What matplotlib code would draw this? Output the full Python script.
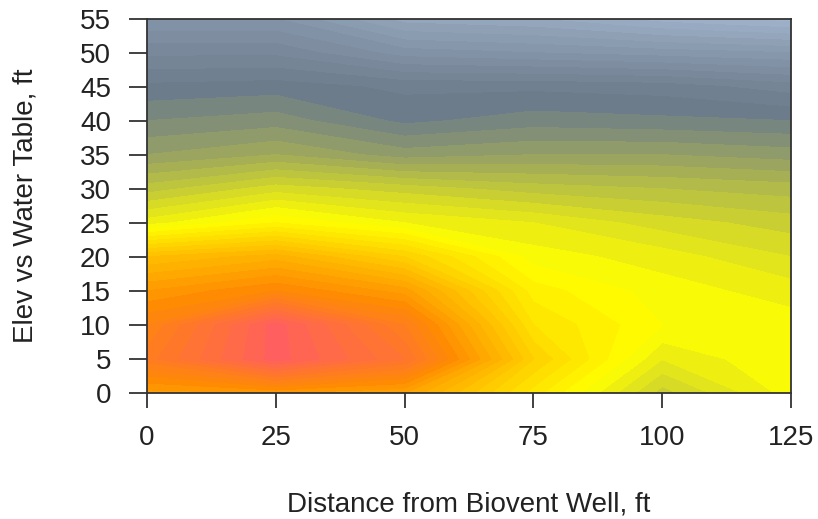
import numpy as np
import matplotlib
matplotlib.use("Agg")
import matplotlib.pyplot as plt
from matplotlib.colors import LinearSegmentedColormap

plt.rcParams['font.family'] = ['Liberation Sans', 'DejaVu Sans']

# Grid of sample positions
distance_ft = [0, 25, 50, 75, 100, 125]
elev_ft = [0, 5, 10, 15, 20, 25, 30, 35, 40, 45, 50, 55]

# Values (rows = elevation, columns = distance)
z_values = [
    [71, 72, 70, 55, 41, 49],      # 0
    [81, 93, 84, 60, 46, 50],      # 5
    [78, 93, 80, 56, 50, 49],      # 10
    [72, 76, 71, 53, 49, 47],      # 15
    [64, 67, 60, 49, 47, 44],      # 20
    [47, 52, 48, 46, 43, 41],      # 25
    [39, 43, 41, 39, 38, 37],      # 30
    [32, 34, 31, 32, 32, 31],      # 35
    [28, 29, 25.5, 27, 26.5, 26],  # 40
    [24.5, 25, 23.5, 23.5, 23, 21],  # 45
    [19.5, 19.5, 15, 14, 13, 12],  # 50
    [14, 14, 7, 6, 3, 1],          # 55
]

cmap_colors = ["#A2B5CD", "#6C7B8B", "#FFFF00", "#FF8C00", "#FF4F80"]
cmap = LinearSegmentedColormap.from_list("ramp", cmap_colors)
levels = np.linspace(0, 100, 51)

fig = plt.figure(figsize=(8.18, 5.19), dpi=100)
ax = fig.add_axes([0.1797, 0.2428, 0.7873, 0.7206])

X, Y = np.meshgrid(distance_ft, elev_ft)
Z = np.array(z_values, dtype=float)
cs = ax.contourf(X, Y, Z, levels=levels, cmap=cmap, antialiased=False)
cs.set_edgecolor('face')
cs.set_linewidth(0.4)

ax.set_xlim(0, 125)
ax.set_ylim(0, 55)
ax.set_xticks([0, 25, 50, 75, 100, 125])
ax.set_yticks(list(range(0, 56, 5)))
ax.tick_params(axis='both', labelsize=20, width=1.3, colors='#333333',
               labelcolor='#222222')
ax.tick_params(axis='x', length=11, pad=12)
ax.tick_params(axis='y', length=13, pad=13)
for s in ax.spines.values():
    s.set_linewidth(1.3)
    s.set_color('#333333')

ax.set_xlabel("Distance from Biovent Well, ft", fontsize=20, color='#222222', labelpad=29)
ax.set_ylabel("Elev vs Water Table, ft", fontsize=20, color='#222222', labelpad=30)

fig.savefig("out.png", dpi=100)
